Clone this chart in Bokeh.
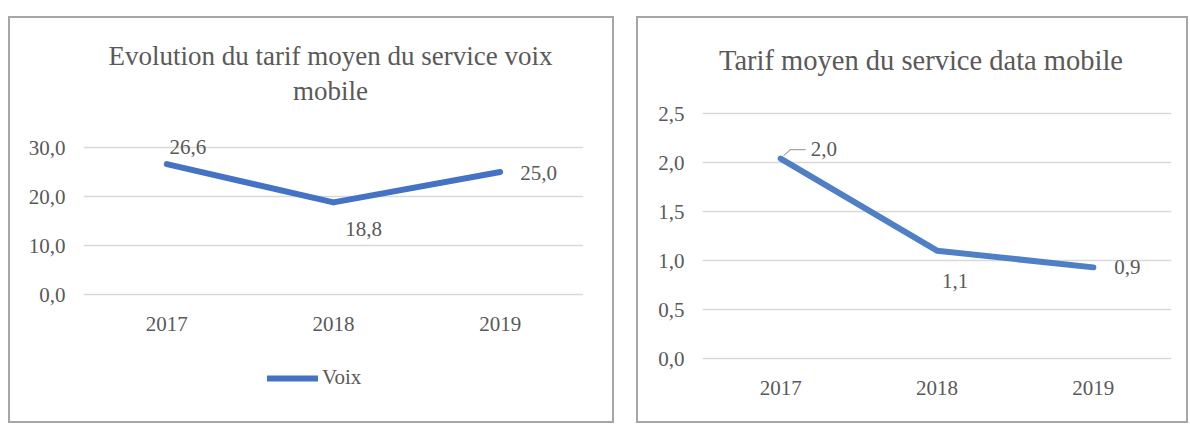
from bokeh.plotting import figure
from bokeh.models import (ColumnDataSource, FactorRange, Range1d, FixedTicker,
                          CustomJSTickFormatter, LabelSet, Legend, LegendItem, Spacer)
from bokeh.layouts import row, column
from bokeh.embed import file_html
from bokeh.resources import INLINE

# ---------------- data ----------------
years = ["2017", "2018", "2019"]
voix_values = [26.6, 18.8, 25.0]
data_values = [2.04, 1.10, 0.93]
voix_ticks = [0, 10, 20, 30]
data_ticks = [0, 0.5, 1.0, 1.5, 2.0, 2.5]
voix_title = ["Evolution du tarif moyen du service voix", "mobile"]
data_title = ["Tarif moyen du service data mobile"]
legend_label = "Voix"

FONT = "Liberation Serif"
TXT = "#595959"
GRID = "#d9d9d9"
BORDER = "#a6a6a6"


def fmt(v):
    return f"{v:.1f}".replace(".", ",")


def make_fig(width, height, ticks, zero_px, top_px, ml, mr, axis_standoff):
    # zero_px / top_px: pixel rows (from figure top) of the first and last gridline
    ppu = (zero_px - top_px) / (ticks[-1] - ticks[0])
    yr = Range1d(-(height - zero_px) / ppu, zero_px / ppu)
    p = figure(width=width, height=height, x_range=FactorRange(factors=years, range_padding=0),
               y_range=yr, output_backend="svg", toolbar_location=None,
               min_border_left=ml, min_border_right=mr, min_border_top=0, min_border_bottom=0)
    p.outline_line_color = None
    p.xgrid.grid_line_color = None
    p.ygrid.grid_line_color = GRID
    p.ygrid.grid_line_width = 1.5
    p.yaxis.ticker = FixedTicker(ticks=ticks)
    p.yaxis.formatter = CustomJSTickFormatter(code="return tick.toFixed(1).replace('.', ',')")
    p.xaxis.fixed_location = 0
    for ax in (p.xaxis[0], p.yaxis[0]):
        ax.axis_line_color = None
        ax.major_tick_line_color = None
        ax.minor_tick_line_color = None
        ax.major_tick_out = 0
        ax.major_tick_in = 0
        ax.major_label_text_font = FONT
        ax.major_label_text_font_size = "21px"
        ax.major_label_text_color = TXT
    p.yaxis.major_label_standoff = 18
    p.xaxis.major_label_standoff = axis_standoff
    p.styles = {"outline": f"2px solid {BORDER}", "outline-offset": "0px"}
    return p, ppu


def add_value_labels(p, values, specs):
    for i, (dx, dy, align) in enumerate(specs):
        src = ColumnDataSource(dict(x=[years[i]], y=[values[i]], t=[fmt(values[i])]))
        p.add_layout(LabelSet(x="x", y="y", text="t", source=src, x_offset=dx, y_offset=dy,
                              text_align=align, text_baseline="middle",
                              text_font=FONT, text_font_size="21px", text_color=TXT))


def add_title(p, lines, rows_px, zero_px, ppu, dx, size):
    src = ColumnDataSource(dict(x=[years[1]] * len(lines),
                                y=[(zero_px - r) / ppu for r in rows_px], t=lines))
    p.add_layout(LabelSet(x="x", y="y", text="t", source=src, x_offset=dx,
                          text_align="center", text_baseline="middle",
                          text_font=FONT, text_font_size=size, text_color=TXT))


H = 403

# ---------------- left chart ----------------
p1, ppu1 = make_fig(602, H, voix_ticks, 276, 129, 73, 29, 22)
r1 = p1.line(years, voix_values, line_color="#4472C4", line_width=6, line_cap="round",
             line_join="round")
add_value_labels(p1, voix_values, [(21, 17, "center"), (30, -27, "center"), (20, -1, "left")])
add_title(p1, voix_title, [37, 72], 276, ppu1, -3, "27px")
leg = Legend(items=[LegendItem(label=legend_label, renderers=[r1])], location=(184, 31),
             orientation="horizontal", padding=0, margin=0, glyph_width=51, glyph_height=20,
             label_standoff=4, border_line_color=None, background_fill_alpha=0,
             label_text_font=FONT, label_text_font_size="21px", label_text_color=TXT)
p1.add_layout(leg)

# ---------------- right chart ----------------
p2, ppu2 = make_fig(548, H, data_ticks, 340, 95, 64, 15, 22)
p2.line(years, data_values, line_color="#4f80c6", line_width=6, line_cap="round",
        line_join="round")
# small leader line for the first value label
lx = [(years[0], 0.019), (years[0], 0.064), (years[0], 0.16)]
ly = [data_values[0] + 0.03, data_values[0] + 0.092, data_values[0] + 0.092]
p2.line(lx, ly, line_color="#a6a6a6", line_width=1.2)
add_value_labels(p2, data_values, [(30, 10, "left"), (18, -30, "center"), (21, 0, "left")])
add_title(p2, data_title, [42], 340, ppu2, -16, "28.5px")

layout = column(Spacer(height=18),
                row(Spacer(width=10), p1, Spacer(width=26), p2, spacing=0))

open("out.html", "w").write(file_html(layout, INLINE))
